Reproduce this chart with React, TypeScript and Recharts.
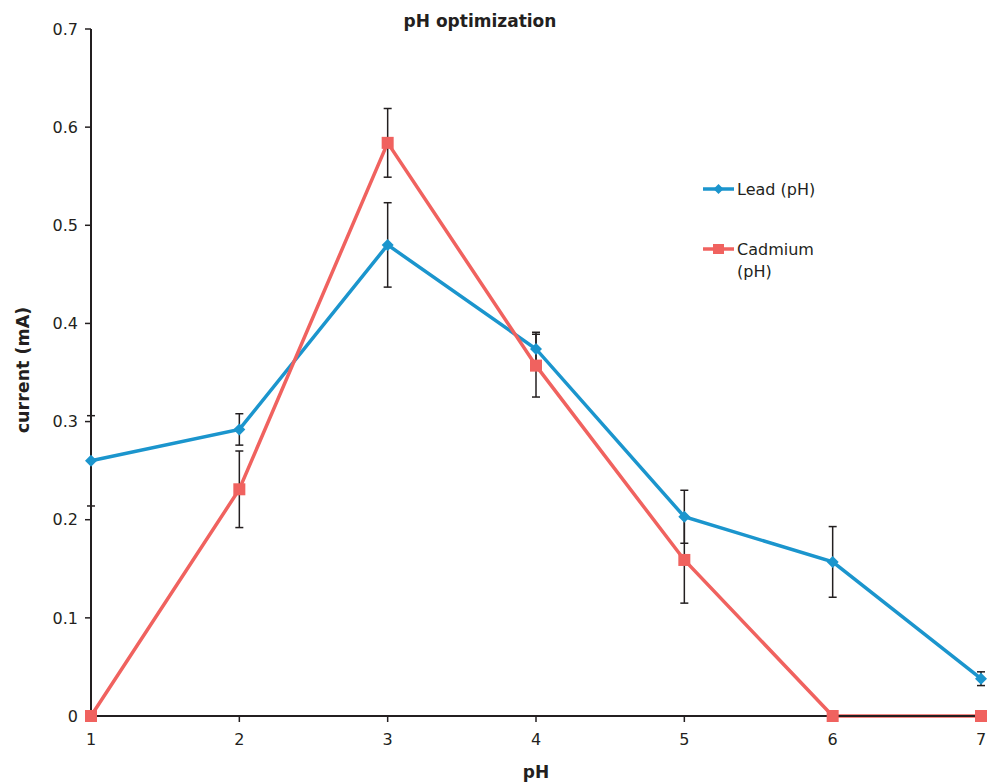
import React from 'react';
import { LineChart, Line, XAxis, YAxis, ErrorBar, Legend } from 'recharts';

const phValues = [1, 2, 3, 4, 5, 6, 7];
const leadCurrent = [0.26, 0.292, 0.48, 0.374, 0.203, 0.157, 0.038];
const leadError = [0.046, 0.016, 0.043, 0.017, 0.027, 0.036, 0.007];
const cadmiumCurrent = [0, 0.231, 0.584, 0.357, 0.159, 0, 0];
const cadmiumError = [0, 0.039, 0.035, 0.032, 0.044, 0, 0];
const yTicks = [0, 0.1, 0.2, 0.3, 0.4, 0.5, 0.6, 0.7];
const xTicks = [1, 2, 3, 4, 5, 6, 7];

const data = phValues.map((ph, i) => ({
  ph,
  lead: leadCurrent[i],
  leadErr: leadError[i],
  cadmium: cadmiumCurrent[i],
  cadmiumErr: cadmiumError[i],
}));

const LEAD_COLOR = '#1b95cd';
const CAD_COLOR = '#f0625f';
const INK = '#231f20';
const FONT = '"DejaVu Sans", Arial, sans-serif';

const diamondPath = (cx: number, cy: number, r: number) =>
  `M${cx},${cy - r}L${cx + r},${cy}L${cx},${cy + r}L${cx - r},${cy}Z`;

const renderDiamond = (props: any) => {
  const { cx, cy, index } = props;
  if (cx == null || cy == null) return <g key={`ld-${index}`} />;
  return <path key={`ld-${index}`} d={diamondPath(cx, cy, 6)} fill={LEAD_COLOR} />;
};

const renderSquare = (props: any) => {
  const { cx, cy, index } = props;
  if (cx == null || cy == null) return <g key={`cd-${index}`} />;
  return <rect key={`cd-${index}`} x={cx - 6} y={cy - 6} width={12} height={12} fill={CAD_COLOR} />;
};

const renderLegend = () => (
  <svg width={200} height={120} style={{ overflow: 'visible' }}>
    <g transform="translate(0,19)">
      <line x1={8} x2={39} y1={0} y2={0} stroke={LEAD_COLOR} strokeWidth={3.5} />
      <path d={diamondPath(23.5, 0, 5)} fill={LEAD_COLOR} />
      <text x={42} y={0} dy="0.36em" fontSize={16} fontFamily={FONT} fill={INK}>
        Lead (pH)
      </text>
    </g>
    <g transform="translate(0,79)">
      <line x1={8} x2={39} y1={0} y2={0} stroke={CAD_COLOR} strokeWidth={3.5} />
      <rect x={18} y={-5} width={11} height={10} fill={CAD_COLOR} />
      <text x={42} y={0} dy="0.36em" fontSize={16} fontFamily={FONT} fill={INK}>
        Cadmium
      </text>
      <text x={42} y={22} dy="0.36em" fontSize={16} fontFamily={FONT} fill={INK}>
        (pH)
      </text>
    </g>
  </svg>
);

export default function App() {
  return (
    <div
      style={{
        position: 'absolute',
        left: 0,
        top: 0,
        width: 987,
        height: 784,
        background: '#ffffff',
        fontFamily: FONT,
      }}
    >
      <LineChart
        width={987}
        height={784}
        data={data}
        margin={{ top: 29, right: 6, bottom: 8, left: 0 }}
      >
        <XAxis
          dataKey="ph"
          type="number"
          domain={[1, 7]}
          ticks={xTicks}
          allowDecimals={false}
          height={60}
          tickSize={6}
          tickMargin={12}
          axisLine={{ stroke: INK, strokeWidth: 2 }}
          tickLine={{ stroke: INK, strokeWidth: 1.5 }}
          tick={{ fill: INK, fontSize: 16, fontFamily: FONT }}
        />
        <YAxis
          type="number"
          domain={[0, 0.7]}
          ticks={yTicks}
          width={91}
          tickSize={6}
          tickMargin={7}
          axisLine={{ stroke: INK, strokeWidth: 2 }}
          tickLine={{ stroke: INK, strokeWidth: 1.5 }}
          tick={{ fill: INK, fontSize: 16, fontFamily: FONT }}
          tickFormatter={(v: number) => (v === 0 ? '0' : String(v))}
        />
        <Legend
          layout="vertical"
          align="center"
          verticalAlign="middle"
          content={renderLegend}
          wrapperStyle={{ left: 695, top: 170, width: 200, height: 120 }}
        />
        <Line
          name="Lead (pH)"
          dataKey="lead"
          stroke={LEAD_COLOR}
          strokeWidth={3.5}
          dot={renderDiamond}
          activeDot={false}
          isAnimationActive={false}
        >
          <ErrorBar dataKey="leadErr" direction="y" width={4} stroke={INK} strokeWidth={1.5} />
        </Line>
        <Line
          name="Cadmium (pH)"
          dataKey="cadmium"
          stroke={CAD_COLOR}
          strokeWidth={3.5}
          dot={renderSquare}
          activeDot={false}
          isAnimationActive={false}
        >
          <ErrorBar dataKey="cadmiumErr" direction="y" width={4} stroke={INK} strokeWidth={1.5} />
        </Line>
      </LineChart>
      <div
        style={{
          position: 'absolute',
          left: 0,
          width: 960,
          top: 11,
          textAlign: 'center',
          fontWeight: 'bold',
          fontSize: 17,
          color: INK,
          lineHeight: '20px',
        }}
      >
        pH optimization
      </div>
      <div
        style={{
          position: 'absolute',
          left: 486,
          width: 100,
          top: 762,
          textAlign: 'center',
          fontWeight: 'bold',
          fontSize: 17,
          color: INK,
          lineHeight: '20px',
        }}
      >
        pH
      </div>
      <div
        style={{
          position: 'absolute',
          left: 23 - 80,
          top: 370 - 10,
          width: 160,
          height: 20,
          lineHeight: '20px',
          textAlign: 'center',
          fontWeight: 'bold',
          fontSize: 17.5,
          color: INK,
          transform: 'rotate(-90deg)',
        }}
      >
        current (mA)
      </div>
    </div>
  );
}
